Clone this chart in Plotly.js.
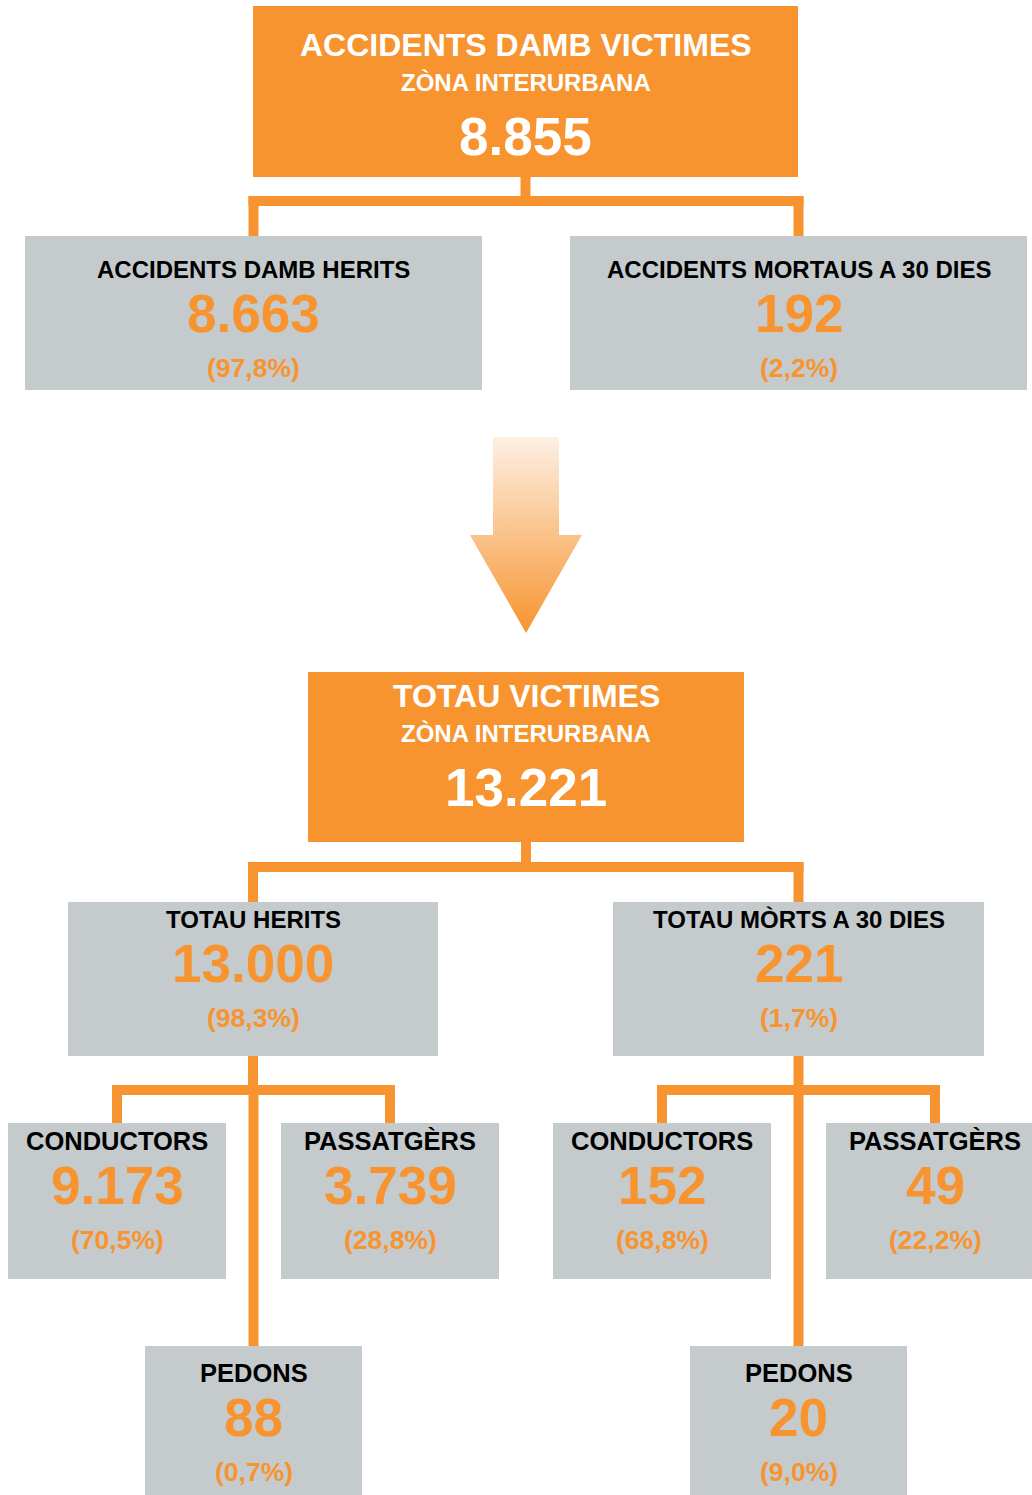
<!DOCTYPE html>
<html>
<head>
<meta charset="utf-8">
<script src="https://cdn.plot.ly/plotly-3.0.1.min.js"></script>
<style>
  html, body { margin: 0; padding: 0; background: #fff; }
  #schema { width: 1032px; height: 1495px; }
</style>
</head>
<body>
<div id="schema"></div>
<script>
// data
const titres = ["ACCIDENTS DAMB VICTIMES", "ACCIDENTS DAMB HERITS", "ACCIDENTS MORTAUS A 30 DIES",
  "TOTAU VICTIMES", "TOTAU HERITS", "TOTAU MÒRTS A 30 DIES",
  "CONDUCTORS", "PASSATGÈRS", "PEDONS", "CONDUCTORS", "PASSATGÈRS", "PEDONS"];
const sostitres = ["ZÒNA INTERURBANA", null, null, "ZÒNA INTERURBANA", null, null,
  null, null, null, null, null, null];
const valors = ["8.855", "8.663", "192", "13.221", "13.000", "221",
  "9.173", "3.739", "88", "152", "49", "20"];
const percents = [null, "(97,8%)", "(2,2%)", null, "(98,3%)", "(1,7%)",
  "(70,5%)", "(28,8%)", "(0,7%)", "(68,8%)", "(22,2%)", "(9,0%)"];

// geometry of the boxes (x0, y0, x1, y1, y of first text line, label size)
const caisses = [
  [253, 6, 798, 177, 45, 32],
  [25, 236, 482, 390, 269, 24],
  [570, 236, 1027, 390, 269, 24],
  [308, 672, 744, 842, 696, 32],
  [68, 902, 438, 1056, 919, 24],
  [613, 902, 984, 1056, 919, 24],
  [8, 1123, 226, 1279, 1141, 25.5],
  [281, 1123, 499, 1279, 1141, 25.5],
  [145, 1346, 362, 1495, 1373, 25.5],
  [553, 1123, 771, 1279, 1141, 25.5],
  [826, 1123, 1044, 1279, 1141, 25.5],
  [690, 1346, 907, 1495, 1373, 25.5]
];
// links: parent, children, y of the horizontal bar
const ligams = [
  [0, [1, 2], 201],
  [3, [4, 5], 867],
  [4, [6, 7, 8], 1090],
  [5, [9, 10, 11], 1090]
];

const ARANJA = "#F7942F";
const GRIS = "#C5CACD";
const E = 5; // half thickness of connectors
const cx = i => (caisses[i][0] + caisses[i][2]) / 2;

const shapes = [];
const annotations = [];

// connectors
ligams.forEach(([p, fills, yb]) => {
  const xs = fills.map(cx);
  const xmin = Math.min(...xs), xmax = Math.max(...xs);
  const rect = (x0, y0, x1, y1) => shapes.push({
    type: "rect", xref: "x", yref: "y", x0, y0, x1, y1,
    fillcolor: ARANJA, line: { width: 0 }, layer: "below"
  });
  rect(cx(p) - E, caisses[p][3], cx(p) + E, yb + E);
  rect(xmin - E, yb - E, xmax + E, yb + E);
  fills.forEach(f => rect(cx(f) - E, yb - E, cx(f) + E, caisses[f][1]));
});

// boxes + texts
caisses.forEach(([x0, y0, x1, y1, ty, tl], i) => {
  const principal = sostitres[i] !== null;
  shapes.push({
    type: "rect", xref: "x", yref: "y", x0, y0, x1, y1,
    fillcolor: principal ? ARANJA : GRIS, line: { width: 0 }, layer: "below"
  });
  const txt = (text, y, size, color) => annotations.push({
    x: cx(i), y, xref: "x", yref: "y", text, showarrow: false,
    xanchor: "center", yanchor: "middle",
    font: { family: "Liberation Sans, Arial, sans-serif", size, color, weight: "bold" }
  });
  if (principal) {
    txt("<b>" + titres[i] + "</b>", ty, tl, "#fff");
    txt("<b>" + sostitres[i] + "</b>", ty + 37, 24, "#fff");
    txt("<b>" + valors[i] + "</b>", ty + 91, 53, "#fff");
  } else {
    txt("<b>" + titres[i] + "</b>", ty, tl, "#000");
    txt("<b>" + valors[i] + "</b>", ty + 44.5, 53, ARANJA);
    txt("<b>" + percents[i] + "</b>", ty + 98.5, 26.5, ARANJA);
  }
});

// gradient arrow between the two parts
const fl = { x: 526, top: 437, mid: 535, bas: 633, tija: 33, testa: 56 };
const sageta = {
  x: [fl.x - fl.tija, fl.x + fl.tija, fl.x + fl.tija, fl.x + fl.testa, fl.x, fl.x - fl.testa, fl.x - fl.tija, fl.x - fl.tija],
  y: [fl.top, fl.top, fl.mid, fl.mid, fl.bas, fl.mid, fl.mid, fl.top],
  type: "scatter", mode: "lines", fill: "toself",
  line: { width: 0, color: "rgba(0,0,0,0)" },
  fillgradient: {
    type: "vertical", start: fl.top, stop: fl.bas,
    colorscale: [[0, "#FDF0E4"], [1, "#F7942F"]]
  },
  hoverinfo: "skip", showlegend: false
};

Plotly.newPlot("schema", [sageta], {
  width: 1032, height: 1495,
  margin: { l: 0, r: 0, t: 0, b: 0 },
  paper_bgcolor: "#fff", plot_bgcolor: "#fff",
  xaxis: { range: [0, 1032], visible: false, fixedrange: true },
  yaxis: { range: [1495, 0], visible: false, fixedrange: true },
  shapes, annotations,
  showlegend: false, hovermode: false
}, { staticPlot: true, displayModeBar: false });
</script>
</body>
</html>
